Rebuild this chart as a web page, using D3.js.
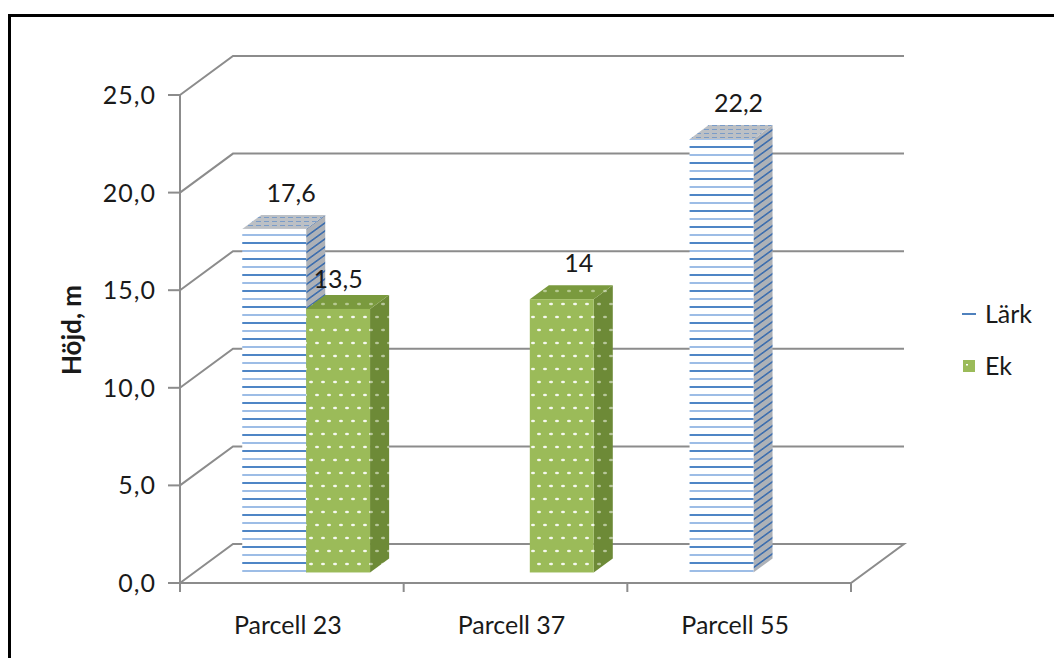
<!DOCTYPE html>
<html>
<head>
<meta charset="utf-8">
<script src="https://cdn.jsdelivr.net/npm/d3@7"></script>
<style>
  body { margin: 0; background: #fff; }
  svg text { font-family: Lato, "Open Sans", sans-serif; fill: #1a1a1a; }
</style>
</head>
<body>
<div id="chart"></div>
<script>
// --- DATA ---
var categories = ["Parcell 23", "Parcell 37", "Parcell 55"];
var seriesNames = ["Lärk", "Ek"];
var larkValues = [17.6, null, 22.2];
var ekValues = [13.5, 14, null];
var yTicks = [0, 5, 10, 15, 20, 25];
var yTitle = "Höjd, m";

// --- SETUP ---
var width = 1054, height = 658;
var svg = d3.select("#chart").append("svg")
  .attr("width", width).attr("height", height);
var defs = svg.append("defs");

var x0 = 180, x1 = 851, yBase = 583, yTop = 95;
var depth = [53, -39];          // full depth of the floor / walls
var barFront = 0.27, barDepth = 0.36;

var y = d3.scaleLinear().domain([0, 25]).range([yBase, yTop]);
var xCat = d3.scaleBand().domain(categories).range([x0, x1]);
var xSer = d3.scaleBand().domain(seriesNames).range([0, xCat.bandwidth()])
  .paddingInner(0).paddingOuter(0.75);

var gridColor = "#8c8c8c";

// --- PATTERNS ---
// Lärk front: narrow horizontal stripes
var pL = defs.append("pattern").attr("id", "larkFront")
  .attr("patternUnits", "userSpaceOnUse").attr("width", 8).attr("height", 16);
pL.append("rect").attr("width", 8).attr("height", 16).attr("fill", "#fff");
pL.append("rect").attr("y", 2).attr("width", 8).attr("height", 2).attr("fill", "#4f86c6");
pL.append("rect").attr("y", 10).attr("width", 8).attr("height", 2).attr("fill", "#9dbde6");

var pLS = defs.append("pattern").attr("id", "larkSide")
  .attr("patternUnits", "userSpaceOnUse").attr("width", 8).attr("height", 8)
  .attr("patternTransform", "skewY(-36)");
pLS.append("rect").attr("width", 8).attr("height", 8).attr("fill", "#adb1b7");
pLS.append("rect").attr("y", 2).attr("width", 8).attr("height", 2).attr("fill", "#3f6fae");

var pLT = defs.append("pattern").attr("id", "larkTop")
  .attr("patternUnits", "userSpaceOnUse").attr("width", 8).attr("height", 4);
pLT.append("rect").attr("width", 8).attr("height", 4).attr("fill", "#bcc0c5");
pLT.append("rect").attr("y", 1).attr("width", 5).attr("height", 1).attr("fill", "#7a9cc8");

// Ek: dotted green
function dotPattern(id, bg, dot, op) {
  var p = defs.append("pattern").attr("id", id)
    .attr("patternUnits", "userSpaceOnUse").attr("width", 24).attr("height", 26);
  p.append("rect").attr("width", 24).attr("height", 26).attr("fill", bg);
  [[5, 5], [17, 5], [11, 18], [23, 18], [-1, 18]].forEach(function(d) {
    p.append("ellipse").attr("cx", d[0]).attr("cy", d[1]).attr("rx", 2).attr("ry", 1.3)
      .attr("fill", dot).attr("opacity", op);
  });
}
dotPattern("ekFront", "#9bbb59", "#fff", 0.9);
dotPattern("ekSide", "#6d8a37", "#e8efdc", 0.6);
dotPattern("ekTop", "#7a9a3e", "#dfe9cc", 0.6);

var fills = {
  "Lärk": ["url(#larkFront)", "url(#larkSide)", "url(#larkTop)"],
  "Ek": ["url(#ekFront)", "url(#ekSide)", "url(#ekTop)"]
};

// --- FRAME ---
svg.append("path").attr("d", "M9.5," + height + " V15.5 H" + width)
  .attr("fill", "none").attr("stroke", "#000").attr("stroke-width", 3);

// --- GRID / WALLS ---
var grid = svg.append("g").attr("fill", "none").attr("stroke", gridColor).attr("stroke-width", 2);
yTicks.forEach(function(t) {
  var yy = y(t);
  if (t === 0) {
    grid.append("path").attr("d", "M" + x0 + "," + yy + " L" + (x0 + depth[0]) + "," + (yy + depth[1]) +
      " H" + (x1 + depth[0]) + " L" + x1 + "," + yy + " Z");
  } else {
    grid.append("path").attr("d", "M" + x0 + "," + yy + " L" + (x0 + depth[0]) + "," + (yy + depth[1]) +
      " H" + (x1 + depth[0]));
  }
  grid.append("line").attr("x1", x0 - 12).attr("x2", x0).attr("y1", yy).attr("y2", yy);
});
grid.append("line").attr("x1", x0).attr("x2", x0).attr("y1", y(0) + 8).attr("y2", y(25));
var catEdges = categories.map(function(c) { return xCat(c); }).concat([x1]);
catEdges.forEach(function(xx) {
  grid.append("line").attr("x1", xx).attr("x2", xx).attr("y1", y(0)).attr("y2", y(0) + 9);
});

// --- AXIS LABELS ---
svg.append("g").selectAll("text").data(yTicks).enter().append("text")
  .attr("x", 156).attr("y", function(d) { return y(d); }).attr("dy", "0.36em")
  .attr("text-anchor", "end").attr("font-size", 25).attr("letter-spacing", 1)
  .text(function(d) { return d.toFixed(1).replace(".", ","); });

svg.append("g").selectAll("text").data(categories).enter().append("text")
  .attr("x", function(d) { return xCat(d) + xCat.bandwidth() / 2 - 4; })
  .attr("y", 625).attr("dy", "0.36em").attr("text-anchor", "middle").attr("font-size", 25)
  .text(function(d) { return d; });

svg.append("text").attr("transform", "translate(72,330) rotate(-90)")
  .attr("text-anchor", "middle").attr("dy", "0.36em")
  .attr("font-size", 26).attr("font-weight", "bold").text(yTitle);

// --- BARS ---
var bars = [];
categories.forEach(function(c, i) {
  var prev = null;
  [["Lärk", larkValues[i]], ["Ek", ekValues[i]]].forEach(function(s) {
    if (s[1] != null) {
      var b = { cat: c, series: s[0], value: s[1], tallerNeighbour: prev != null && prev > s[1] };
      bars.push(b);
      prev = s[1];
    }
  });
});

var fx = barFront * depth[0], fy = barFront * depth[1];
var dx = barDepth * depth[0], dy = barDepth * depth[1];

var barG = svg.append("g");
bars.forEach(function(d) {
  var L = xCat(d.cat) + xSer(d.series) + fx;
  var R = L + xSer.bandwidth();
  var B = y(0) + fy;
  var T = y(d.value) + fy;
  var f = fills[d.series];
  var g = barG.append("g");
  g.append("path").attr("fill", f[1])
    .attr("d", "M" + R + "," + B + " L" + (R + dx) + "," + (B + dy) + " L" + (R + dx) + "," + (T + dy) + " L" + R + "," + T + " Z");
  g.append("path").attr("fill", f[2])
    .attr("d", "M" + L + "," + T + " L" + R + "," + T + " L" + (R + dx) + "," + (T + dy) + " L" + (L + dx) + "," + (T + dy) + " Z");
  g.append("rect").attr("x", L).attr("y", T).attr("width", R - L).attr("height", B - T).attr("fill", f[0]);
  // label sits above the top face; pulled left when the bar beside it is taller
  d.lx = (L + R) / 2 + (d.tallerNeighbour ? 0 : 17);
  d.ly = T - (d.tallerNeighbour ? 30 : 36);
});

svg.append("g").selectAll("text").data(bars).enter().append("text")
  .attr("x", function(d) { return d.lx; }).attr("y", function(d) { return d.ly; })
  .attr("dy", "0.36em").attr("text-anchor", "middle").attr("font-size", 25)
  .text(function(d) { return String(d.value).replace(".", ","); });

// --- LEGEND ---
var leg = svg.append("g");
leg.append("line").attr("x1", 962).attr("x2", 976).attr("y1", 314).attr("y2", 314)
  .attr("stroke", "#4f81bd").attr("stroke-width", 2);
leg.append("rect").attr("x", 963).attr("y", 360).attr("width", 12).attr("height", 12).attr("fill", "#9bbb59");
leg.append("rect").attr("x", 966).attr("y", 364).attr("width", 2).attr("height", 1.5).attr("fill", "#fff");
leg.selectAll("text").data(seriesNames).enter().append("text")
  .attr("x", 985).attr("y", function(d, i) { return 314 + i * 52; }).attr("dy", "0.36em")
  .attr("font-size", 25).text(function(d) { return d; });
</script>
</body>
</html>
